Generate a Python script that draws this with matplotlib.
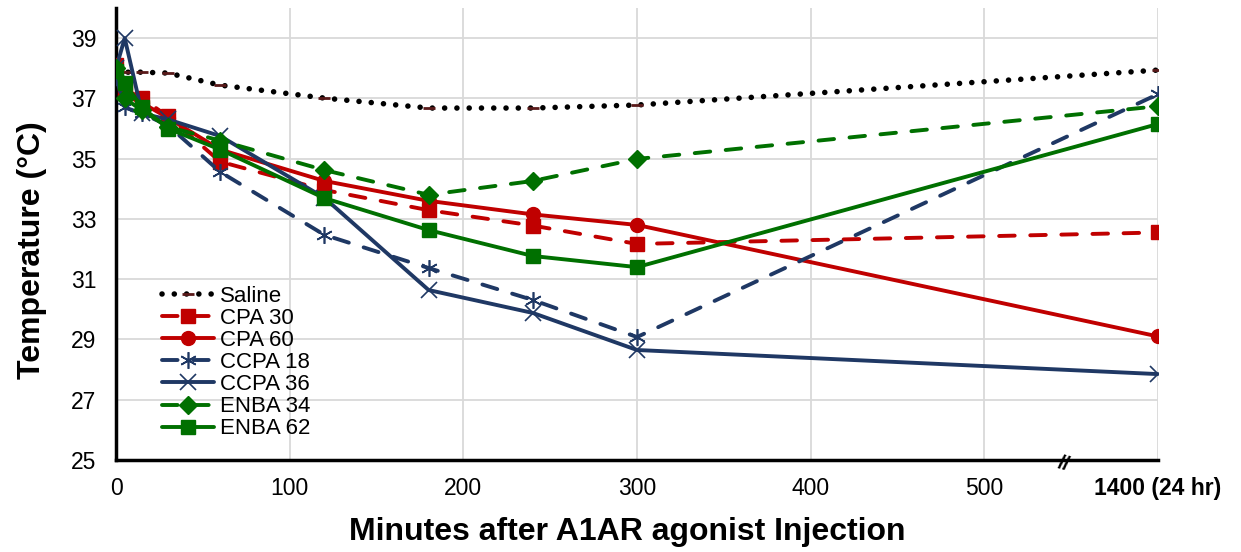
import numpy as np
import matplotlib
matplotlib.use("Agg")
import matplotlib.pyplot as plt

plt.rcParams['font.family'] = ['Liberation Sans', 'DejaVu Sans']

minutes = [0, 5, 15, 30, 60, 120, 180, 240, 300, 1400]
saline  = [37.94, 37.87, 37.87, 37.84, 37.44, 37.01, 36.68, 36.68, 36.78, 37.94]
cpa30   = [38.10, 37.30, 37.00, 36.40, 34.90, 33.96, 33.29, 32.78, 32.17, 32.55]
cpa60   = [37.90, 37.10, 36.85, 36.35, 35.30, 34.26, 33.60, 33.15, 32.80, 29.10]
ccpa18  = [37.70, 36.70, 36.50, 36.10, 34.56, 32.47, 31.37, 30.31, 29.08, 37.14]
ccpa36  = [38.00, 39.00, 36.50, 36.30, 35.75, 33.70, 30.64, 29.88, 28.65, 27.85]
enba34  = [38.00, 37.00, 36.60, 36.05, 35.60, 34.62, 33.80, 34.26, 34.99, 36.74]
enba62  = [37.90, 37.50, 36.70, 36.00, 35.30, 33.69, 32.63, 31.77, 31.40, 36.15]

x_ticks = [0, 100, 200, 300, 400, 500, 1400]
x_ticklabels = ['0', '100', '200', '300', '400', '500', '1400 (24 hr)']
y_ticks = [25, 27, 29, 31, 33, 35, 37, 39]

RED = '#C00000'
NAVY = '#1F3864'
GREEN = '#007000'


def fwd(t):
    t = np.asarray(t, dtype=float)
    return np.where(t <= 500, t, 500 + (t - 500) * 100.0 / 900.0)


def inv(x):
    x = np.asarray(x, dtype=float)
    return np.where(x <= 500, x, 500 + (x - 500) * 9.0)


fig = plt.figure(figsize=(12.41, 5.52), dpi=100)
ax = fig.add_axes([0.0935, 0.1667, 0.8396, 0.8188])
ax.set_xscale('function', functions=(fwd, inv))

lw = 2.8
dash = (0, (4.0, 4.0))

ax.plot(minutes, saline, color='black', lw=4, linestyle=(0, (0.01, 2.2)),
        dash_capstyle='round', marker='_', ms=8, mew=2, mec='#5a1a1a',
        label='Saline', zorder=3)
ax.plot(minutes, cpa30, color=RED, lw=lw, linestyle=dash, dash_capstyle='round',
        marker='s', ms=10, label='CPA 30', zorder=3)
ax.plot(minutes, cpa60, color=RED, lw=lw, solid_capstyle='round',
        marker='o', ms=10, label='CPA 60', zorder=3)
ax.plot(minutes, ccpa18, color=NAVY, lw=lw, linestyle=dash, dash_capstyle='round',
        marker=(6, 2, 0), ms=12, mew=1.2, label='CCPA 18', zorder=3)
ax.plot(minutes, ccpa36, color=NAVY, lw=lw, solid_capstyle='round',
        marker='x', ms=11, mew=1.2, label='CCPA 36', zorder=3)
ax.plot(minutes, enba34, color=GREEN, lw=lw, linestyle=dash, dash_capstyle='round',
        marker='D', ms=9, label='ENBA 34', zorder=3)
ax.plot(minutes, enba62, color=GREEN, lw=lw, solid_capstyle='round',
        marker='s', ms=10, label='ENBA 62', zorder=3)

ax.set_xlim(0, 1400)
ax.set_ylim(25, 40)
ax.set_xticks(x_ticks)
ax.set_xticklabels(x_ticklabels)
ax.set_yticks(y_ticks)
ax.grid(True, color='#d9d9d9', lw=1.3, zorder=0)
ax.set_axisbelow(True)

ax.tick_params(axis='both', length=0, labelsize=16.5)
ax.tick_params(axis='x', pad=12)
ax.tick_params(axis='y', pad=14)
ax.get_xticklabels()[-1].set_fontweight('bold')

for s in ['top', 'right']:
    ax.spines[s].set_visible(False)
for s in ['left', 'bottom']:
    ax.spines[s].set_linewidth(2.5)
    ax.spines[s].set_color('black')

ax.set_xlabel('Minutes after A1AR agonist Injection', fontsize=23,
              fontweight='bold')
ax.xaxis.set_label_coords(0.491, -0.127)
ax.set_ylabel('Temperature (°C)', fontsize=23, fontweight='bold')
ax.yaxis.set_label_coords(-0.066, 0.465)

# axis break mark
ax.text(inv(546), 24.85, '//', fontsize=15, fontweight='bold',
        ha='center', va='center', clip_on=False, rotation=-15)

leg = ax.legend(loc='upper left', bbox_to_anchor=(0.036, 0.405), frameon=False,
                prop={'size': 16}, handlelength=2.3, handletextpad=0.3,
                labelspacing=0.05, borderaxespad=0, borderpad=0.4)

fig.savefig('out.png', dpi=100)
